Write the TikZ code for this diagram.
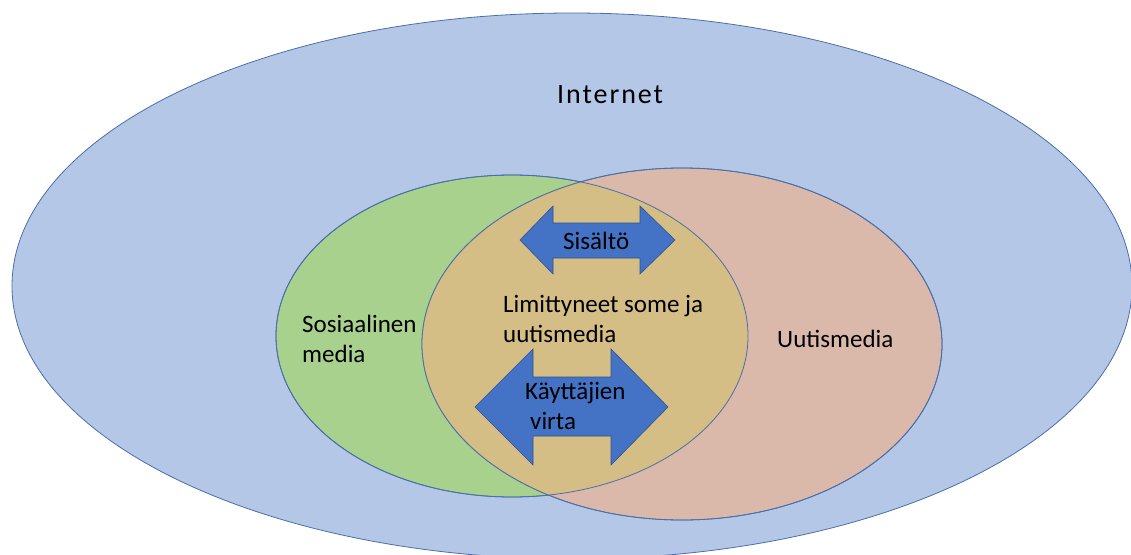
\documentclass[tikz,border=0pt]{standalone}
\usepackage{fontspec}
\setmainfont{Carlito}
\usetikzlibrary{shapes.geometric}
\definecolor{netblue}{HTML}{B4C7E7}
\definecolor{edgeblue}{HTML}{4A6FA8}
\definecolor{somegreen}{HTML}{A9D18E}
\definecolor{newsrose}{HTML}{DBB9AA}
\definecolor{overlaptan}{HTML}{D4BE86}
\definecolor{arrowblue}{HTML}{4472C4}
\definecolor{arrowedge}{HTML}{2F528F}
\begin{document}
\begin{tikzpicture}[x=1pt,y=-1pt,
  blob/.style={draw=edgeblue, line width=0.8pt},
  flowarrow/.style={fill=arrowblue, draw=arrowedge, line width=0.6pt},
  lbl/.style={inner sep=0pt, text=black, font=\fontsize{25}{30}\selectfont, align=left, anchor=base west}]
\useasboundingbox (0,0) rectangle (1131,554);
% Internet
\node[blob, fill=netblue, ellipse, inner sep=0pt, minimum width=1120pt, minimum height=546pt] (net) at (572,286) {};
% social and news media
\node[blob, fill=somegreen, ellipse, inner sep=0pt, minimum width=472pt, minimum height=322pt] (some) at (512,336) {};
\node[blob, fill=newsrose, ellipse, inner sep=0pt, minimum width=520pt, minimum height=352pt] (news) at (682,344) {};
\begin{scope}
  \clip (512,336) ellipse [x radius=236pt, y radius=161pt];
  \fill[overlaptan] (682,344) ellipse [x radius=260pt, y radius=176pt];
\end{scope}
\draw[blob] (512,336) ellipse [x radius=236pt, y radius=161pt];
\draw[blob] (682,344) ellipse [x radius=260pt, y radius=176pt];
% arrows
\draw[flowarrow] (520,240) -- (553,206) -- (553,223) -- (640,223) -- (640,206) -- (675,240)
  -- (640,274) -- (640,258) -- (553,258) -- (553,274) -- cycle;
\draw[flowarrow] (475,407) -- (533,349) -- (533,377) -- (611,377) -- (611,349) -- (668,407)
  -- (611,465) -- (611,436) -- (533,436) -- (533,465) -- cycle;
% labels
\node[lbl, font=\fontsize{28}{34}\selectfont] (tnet) at (557,103) {\addfontfeature{LetterSpace=7}Internet};
\node[lbl] (tsis) at (563,249) {Sisältö};
\node[lbl] (tover) at (503,342) {Limittyneet some ja\\uutismedia};
\node[lbl] (tflow) at (525,429) {Käyttäjien\\\hspace*{5pt}virta};
\node[lbl] (tsome) at (302,362) {Sosiaalinen\\media};
\node[lbl] (tnews) at (777,347) {Uutismedia};
\end{tikzpicture}
\end{document}
